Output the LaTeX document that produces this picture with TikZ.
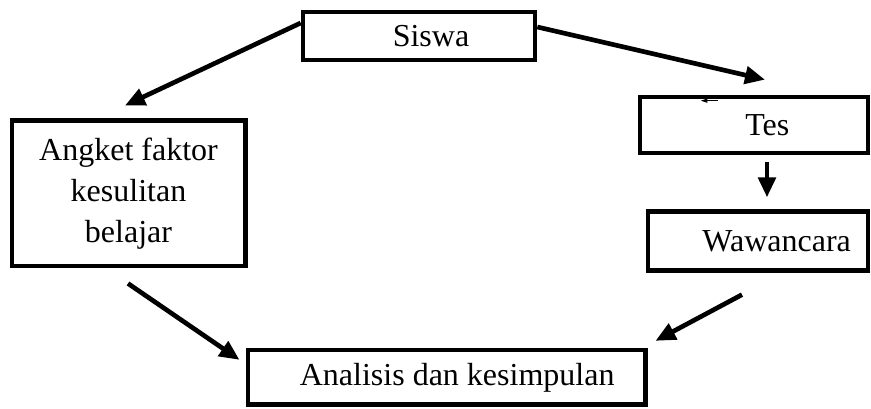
\documentclass[tikz,border=0pt]{standalone}
\usepackage{fontspec}
\setmainfont{Liberation Serif}
\usepackage{tikz}
\usetikzlibrary{arrows.meta,calc,positioning}

\newcommand{\padl}[2]{\hspace*{#1}#2}

\begin{document}
\begin{tikzpicture}[
  x=0.75pt,y=-0.75pt,
  font=\fontsize{24}{31}\selectfont,
  box/.style={draw,line width=3.5pt,inner sep=0pt,fill=white,align=center},
  arr/.style={-{Triangle[length=15pt,width=13pt]},line width=3.5pt},
  tiny/.style={-{Triangle[length=5pt,width=3pt]},line width=0.6pt}
]
  \useasboundingbox (0,0) rectangle (871,409);
  \node[box,minimum width=174pt,minimum height=36pt] (siswa) at (419,36) {\padl{18pt}{Siswa}};
  \node[box,minimum width=175pt,minimum height=109pt] (angket) at (128.5,193.5)
    {Angket faktor\\kesulitan\\belajar};
  \node[box,minimum width=171pt,minimum height=42pt] (tes) at (754,125) {\padl{20pt}{Tes}};
  \node[box,minimum width=165pt,minimum height=44pt] (wawancara) at (758,241) {\padl{28pt}{Wawancara}};
  \node[box,minimum width=298pt,minimum height=41pt] (analisis) at (446.5,377.5)
    {\padl{16pt}{Analisis dan kesimpulan}};
  \draw[arr] ($(siswa.west)+(0,-13)$) -- ($(angket.north)+(-3.5,-13)$);
  \draw[arr] ($(siswa.east)+(0,-9)$) -- ($(tes.north)+(11,-15)$);
  \draw[tiny] ($(tes.north west)+(80,6)$) -- ($(tes.north west)+(63,6)$);
  \draw[arr] ($(tes.south)+(13,7)$) -- ($(wawancara.north)+(9,-12)$);
  \draw[arr] ($(angket.south)+(-0.5,15)$) -- ($(analisis.north west)+(-6,12)$);
  \draw[arr] ($(wawancara.south)+(-16,22)$) -- ($(analisis.north east)+(8,-7)$);
\end{tikzpicture}
\end{document}
